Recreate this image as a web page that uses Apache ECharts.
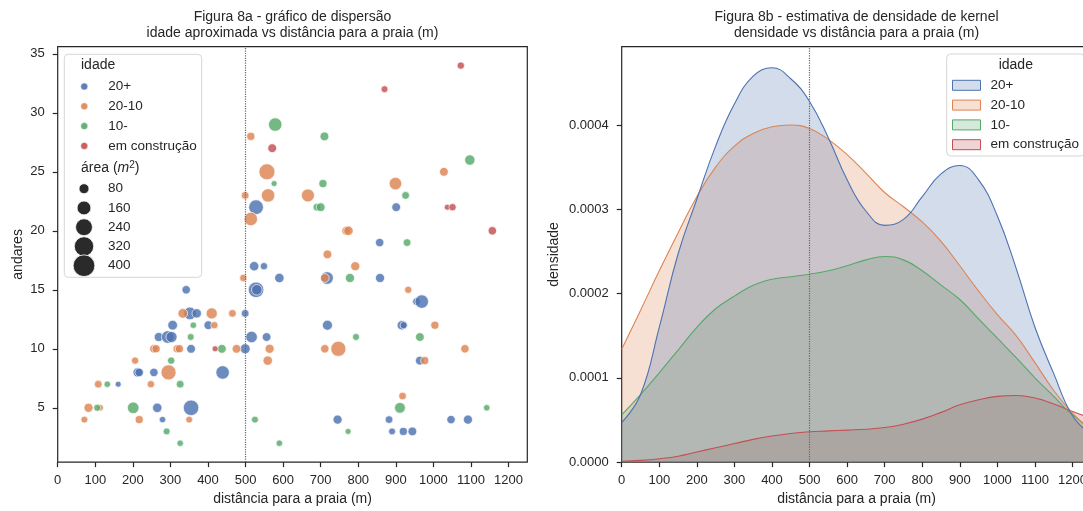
<!DOCTYPE html>
<html><head><meta charset="utf-8">
<script src="https://cdn.jsdelivr.net/npm/echarts@6/dist/echarts.min.js"></script>
<style>html,body{margin:0;padding:0;overflow:hidden;background:#fff}#c{width:1100px;height:511px}</style>
</head><body><div id="c"></div><script>
// ---------- data ----------
const categories = ['20+', '20-10', '10-', 'em construção'];
const colors = ['#4C72B0', '#DD8452', '#55A868', '#C44E52'];

// scatter points: [distância (m), andares, área (m2)]
const pts20plus = [[523,17,70],[549,17,40],[590,16,70],[528,15,200],[530,15,90],[342,15,55],[352,13,130],[370,13,70],[499,13,45],[306,12,75],[401,12,60],[269,11,65],[293,11,130],[303,11,100],[516,11,110],[556,11,60],[355,10,60],[499,10,80],[213,8,70],[217,8,55],[256,8,55],[439,8,150],[161,7,25],[265,5,70],[355,5,200],[279,4,30],[717,16,130],[858,16,65],[955,14,45],[969,14,150],[718,12,80],[916,12,70],[921,12,40],[964,9,60],[745,4,65],[882,4,45],[1047,4,55],[1092,4,65],[890,3,35],[920,3,50],[944,3,60],[528,22,180],[901,22,60],[857,19,55]];
const pts20to10 = [[494,16,40],[333,13,75],[410,13,100],[465,13,45],[417,12,40],[256,10,55],[262,10,50],[318,10,50],[324,10,50],[476,10,60],[564,10,65],[206,9,40],[559,9,70],[295,8,190],[108,7,45],[248,7,40],[82,5,65],[113,5,30],[71,4,35],[217,4,50],[350,4,35],[711,16,60],[792,17,65],[718,18,60],[933,15,40],[1004,12,50],[711,10,55],[747,10,190],[1084,10,55],[977,9,50],[918,6,45],[514,28,50],[557,25,215],[1028,25,60],[899,24,130],[499,23,45],[560,23,150],[666,23,140],[514,21,150],[768,20,60],[774,20,70]];
const pts10minus = [[361,12,30],[354,11,35],[437,10,60],[302,9,40],[132,7,30],[326,7,45],[105,5,35],[201,5,110],[525,4,35],[290,3,35],[326,2,30],[590,2,30],[778,16,65],[794,11,35],[964,11,60],[911,5,95],[1142,5,30],[773,3,25],[579,29,150],[710,28,60],[1097,26,85],[576,24,25],[706,24,50],[926,23,45],[690,22,45],[700,22,60],[930,19,45]];
const ptsConstr = [[419,10,25],[1073,34,40],[870,32,35],[571,27,60],[1037,22,25],[1051,22,40],[1157,20,55]];

const sizeLegendValues = [80, 160, 240, 320, 400];

// KDE curves (densidade vs distância)
const kdeX = [0,50,100,150,200,250,300,350,400,450,500,550,600,650,700,750,800,850,900,950,1000,1050,1100,1150,1200,1250];
const kde20plus = [0.47e-4,0.8e-4,1.6e-4,2.47e-4,3.12e-4,3.75e-4,4.25e-4,4.58e-4,4.68e-4,4.55e-4,4.28e-4,3.85e-4,3.35e-4,2.98e-4,2.81e-4,2.88e-4,3.15e-4,3.42e-4,3.52e-4,3.35e-4,2.92e-4,2.3e-4,1.6e-4,1.05e-4,0.55e-4,0.33e-4];
const kde20to10 = [1.34e-4,1.8e-4,2.27e-4,2.72e-4,3.15e-4,3.5e-4,3.75e-4,3.9e-4,3.98e-4,4.0e-4,3.96e-4,3.83e-4,3.65e-4,3.43e-4,3.2e-4,3.03e-4,2.85e-4,2.62e-4,2.33e-4,2.03e-4,1.75e-4,1.5e-4,1.18e-4,0.85e-4,0.58e-4,0.37e-4];
const kde10minus = [0.56e-4,0.8e-4,1.06e-4,1.33e-4,1.6e-4,1.82e-4,1.97e-4,2.1e-4,2.17e-4,2.2e-4,2.23e-4,2.27e-4,2.33e-4,2.4e-4,2.44e-4,2.4e-4,2.27e-4,2.1e-4,1.93e-4,1.7e-4,1.47e-4,1.24e-4,1.0e-4,0.78e-4,0.56e-4,0.4e-4];
const kdeConstr = [0.01e-4,0.02e-4,0.04e-4,0.07e-4,0.12e-4,0.17e-4,0.22e-4,0.27e-4,0.31e-4,0.34e-4,0.36e-4,0.37e-4,0.38e-4,0.39e-4,0.41e-4,0.45e-4,0.51e-4,0.59e-4,0.68e-4,0.74e-4,0.78e-4,0.79e-4,0.76e-4,0.69e-4,0.6e-4,0.52e-4];

const xTicks = [0,100,200,300,400,500,600,700,800,900,1000,1100,1200];
const yTicksScatter = [5,10,15,20,25,30,35];
const yTicksDensity = [0,0.0001,0.0002,0.0003,0.0004];
const beachLine = 500;

// ---------- styling helpers ----------
const FONT = '"Liberation Sans", Arial, sans-serif';
const TXT = '#262626';
const sizeOf = a => Math.sqrt(7.2 + 1.16 * a);
const rgba = (hex, a) => {
  const n = parseInt(hex.slice(1), 16);
  return `rgba(${(n >> 16) & 255},${(n >> 8) & 255},${n & 255},${a})`;
};

const G0 = {left: 57.7, top: 46.7, width: 469.6, height: 419.5};
const G1 = {left: 621.7, top: 46.7, width: 469.6, height: 420};

function xAxisFor(gi) {
  return {
    type: 'value', gridIndex: gi, min: 0, max: 1250,
    name: 'distância para a praia (m)', nameLocation: 'middle', nameGap: 28,
    nameTextStyle: {fontSize: 14, color: TXT, fontFamily: FONT},
    axisLine: {show: false},
    axisTick: {show: true, length: 5, customValues: xTicks, lineStyle: {color: TXT, width: 1.2}},
    axisLabel: {customValues: xTicks, margin: 12, fontSize: 13, color: TXT, fontFamily: FONT,
      formatter: v => String(v)},
    splitLine: {show: false}
  };
}

const scatterSets = [pts20plus, pts20to10, pts10minus, ptsConstr];
const kdeSets = [kde20plus, kde20to10, kde10minus, kdeConstr];

const series = [];
scatterSets.forEach((pts, i) => {
  series.push({
    type: 'scatter', name: categories[i], xAxisIndex: 0, yAxisIndex: 0,
    data: pts, symbolSize: v => sizeOf(v[2]), symbolKeepAspect: true,
    itemStyle: {color: colors[i], opacity: 0.82, borderColor: '#fff', borderWidth: 0.8},
    emphasis: {disabled: true}, z: 2,
    markLine: i === 0 ? {
      silent: true, symbol: ['none', 'none'], label: {show: false},
      lineStyle: {type: 'dotted', color: '#666', width: 1.2},
      data: [{xAxis: beachLine}]
    } : undefined
  });
});
// seaborn draws hue levels in reverse order
for (let i = 3; i >= 0; i--) {
  series.push({
    type: 'line', name: categories[i], xAxisIndex: 1, yAxisIndex: 1,
    data: kdeX.map((x, k) => [x, kdeSets[i][k]]),
    smooth: 0.45, showSymbol: false, symbol: 'none',
    lineStyle: {color: colors[i], width: 1.1},
    itemStyle: {color: colors[i]},
    areaStyle: {color: colors[i], opacity: 0.25},
    emphasis: {disabled: true}, z: 2,
    markLine: i === 0 ? {
      silent: true, symbol: ['none', 'none'], label: {show: false},
      lineStyle: {type: 'dotted', color: '#666', width: 1.2},
      data: [{xAxis: beachLine}]
    } : undefined
  });
}

const graphics = [];
// titles
const titleLines = [
  ['Figura 8a - gráfico de dispersão', 'idade aproximada vs distância para a praia (m)', G0],
  ['Figura 8b - estimativa de densidade de kernel', 'densidade vs distância para a praia (m)', G1]
];
titleLines.forEach(([a, b, g]) => {
  const cx = g.left + g.width / 2;
  [[a, 17], [b, 33]].forEach(([t, y]) => graphics.push({
    type: 'text', z: 10, style: {text: t, x: cx, y: y, align: 'center', verticalAlign: 'middle',
      fontSize: 14, fontFamily: FONT, fill: TXT}
  }));
});
// left legend frame + titles + size legend
graphics.push({type: 'rect', z: 3, shape: {x: 64.3, y: 54.3, width: 137.4, height: 223, r: 4},
  style: {fill: 'rgba(255,255,255,0.8)', stroke: '#d6d6d6', lineWidth: 1}});
graphics.push({type: 'text', z: 10, style: {text: 'idade', x: 81, y: 65.5, verticalAlign: 'middle',
  fontSize: 14, fontFamily: FONT, fill: TXT}});
graphics.push({type: 'text', z: 10, style: {text: 'área ({i|m}{s|2})', x: 81, y: 168.5, verticalAlign: 'middle',
  fontSize: 14, fontFamily: FONT, fill: TXT, lineHeight: 16,
  rich: {i: {fontStyle: 'italic', fontSize: 14, fontFamily: FONT, fill: TXT, lineHeight: 16},
         s: {fontSize: 10, fontFamily: FONT, fill: TXT, verticalAlign: 'top', lineHeight: 16}}}});
sizeLegendValues.forEach((v, k) => {
  const cy = 188.7 + k * 19.25;
  graphics.push({type: 'circle', z: 10, shape: {cx: 84, cy: cy, r: sizeOf(v) / 2},
    style: {fill: '#2a2a2a', stroke: '#fff', lineWidth: 0.8}});
  graphics.push({type: 'text', z: 10, style: {text: String(v), x: 108, y: cy, verticalAlign: 'middle',
    fontSize: 13.5, fontFamily: FONT, fill: TXT}});
});
// right legend frame + title
graphics.push({type: 'rect', z: 3, shape: {x: 946.7, y: 54, width: 138, height: 102, r: 4},
  style: {fill: 'rgba(255,255,255,0.8)', stroke: '#d6d6d6', lineWidth: 1}});
graphics.push({type: 'text', z: 10, style: {text: 'idade', x: 1015.8, y: 65.5, align: 'center', verticalAlign: 'middle',
  fontSize: 14, fontFamily: FONT, fill: TXT}});

const option = {
  animation: false,
  backgroundColor: '#fff',
  grid: [
    Object.assign({show: true, borderColor: TXT, borderWidth: 1.2, backgroundColor: 'transparent', containLabel: false}, G0),
    Object.assign({show: true, borderColor: TXT, borderWidth: 1.2, backgroundColor: 'transparent', containLabel: false}, G1)
  ],
  xAxis: [xAxisFor(0), xAxisFor(1)],
  yAxis: [
    {type: 'value', gridIndex: 0, min: 0.4, max: 35.6,
     name: 'andares', nameLocation: 'middle', nameGap: 33,
     nameTextStyle: {fontSize: 14, color: TXT, fontFamily: FONT},
     axisLine: {show: false},
     axisTick: {show: true, length: 5, customValues: yTicksScatter, lineStyle: {color: TXT, width: 1.2}},
     axisLabel: {customValues: yTicksScatter, margin: 13, fontSize: 13, color: TXT, fontFamily: FONT},
     splitLine: {show: false}},
    {type: 'value', gridIndex: 1, min: 0, max: 0.000493,
     name: 'densidade', nameLocation: 'middle', nameGap: 61,
     nameTextStyle: {fontSize: 14, color: TXT, fontFamily: FONT},
     axisLine: {show: false},
     axisTick: {show: true, length: 5, customValues: yTicksDensity, lineStyle: {color: TXT, width: 1.2}},
     axisLabel: {customValues: yTicksDensity, margin: 13, fontSize: 13, color: TXT, fontFamily: FONT,
       formatter: v => Number(v).toFixed(4)},
     splitLine: {show: false}}
  ],
  legend: [
    {orient: 'vertical', left: 80.5, top: 79.5, padding: 0, itemGap: 5.8, itemWidth: 7, itemHeight: 7,
     z: 6, selectedMode: false,
     data: categories.map((c, i) => ({name: c, icon: 'circle',
       itemStyle: {color: colors[i], borderColor: '#fff', borderWidth: 0.5, opacity: 0.9}})),
     textStyle: {fontSize: 13.5, color: TXT, fontFamily: FONT, padding: [0, 0, 0, 15.5]}},
    {orient: 'vertical', left: 952, top: 78.3, padding: 0, itemGap: 5.8, itemWidth: 28, itemHeight: 10,
     z: 6, selectedMode: false,
     data: categories.map((c, i) => ({name: c, icon: 'rect',
       itemStyle: {color: rgba(colors[i], 0.25), borderColor: colors[i], borderWidth: 1, opacity: 1}})),
     textStyle: {fontSize: 13.5, color: TXT, fontFamily: FONT, padding: [0, 0, 0, 5]}}
  ],
  graphic: graphics,
  series: series
};

const chart = echarts.init(document.getElementById('c'), null, {renderer: 'canvas'});
chart.setOption(option);
</script></body></html>
